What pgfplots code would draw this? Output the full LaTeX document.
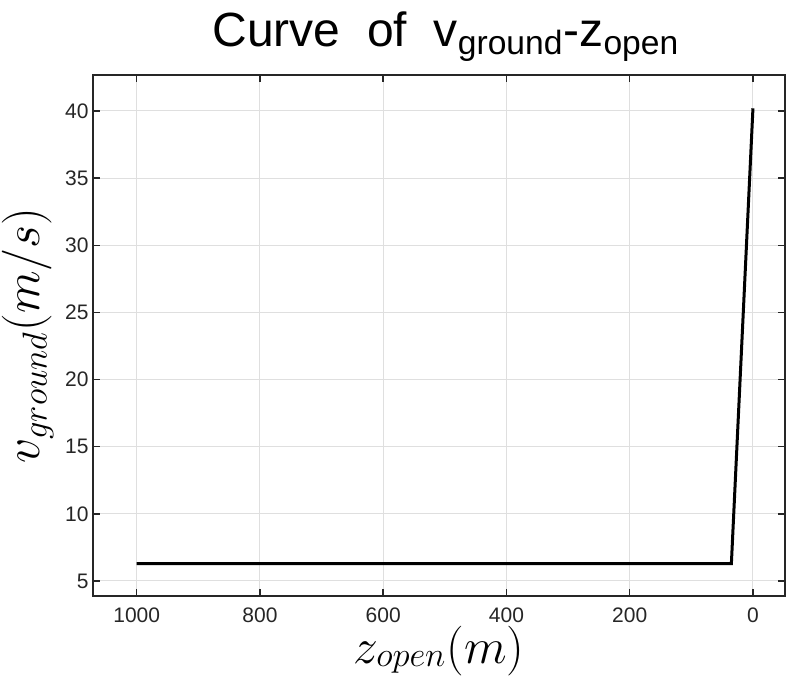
\documentclass[border=0pt]{standalone}
\usepackage{pgfplots}
\pgfplotsset{compat=1.18}
\usepackage{fontspec}
\setmainfont{Liberation Sans}
\definecolor{axc}{HTML}{262626}
\definecolor{gridc}{HTML}{DFDFDF}
\begin{document}
\begin{tikzpicture}
\path[use as bounding box] (-46.5pt,-39.5pt) rectangle (347pt,298pt);
\begin{axis}[
  at={(0,0)}, anchor=south west,
  scale only axis, width=346pt, height=260.5pt,
  x dir=reverse, xmin=-52, xmax=1071, ymin=3.88, ymax=42.68,
  xtick={0,200,...,1000}, ytick={5,10,...,40},
  grid=major, major grid style={gridc, line width=0.5pt},
  axis line style={axc, line width=0.75pt},
  tick style={axc, line width=0.75pt},
  tick align=inside, major tick length=3.5pt,
  ticklabel style={font=\fontsize{10.5}{12}\selectfont, text=axc, inner sep=1pt},
  xticklabel style={yshift=-4.5pt},
  yticklabel style={xshift=-1pt},
  /pgf/number format/assume math mode=true,
  /pgf/number format/1000 sep={},
  title={Curve\ \ of\ \ v\textsubscript{ground}-z\textsubscript{open}},
  title style={at={(axis description cs:0.51,1.031)}, anchor=base, font=\fontsize{24}{28}\selectfont},
  xlabel={$z_{\raisebox{2.5pt}{$\scriptstyle open$}}(m)$},
  xlabel style={at={(axis description cs:0.5,-0.1305)}, anchor=base, inner sep=0pt, font=\fontsize{23.5}{28}\selectfont},
  ylabel={$v_{\raisebox{2.5pt}{$\scriptstyle ground$}}(m/s)$},
  ylabel style={at={(axis description cs:-0.094,0.5)}, anchor=center, inner sep=0pt, font=\fontsize{25}{29}\selectfont},
]
\addplot[black, line width=1.5pt] coordinates {(1000,6.3) (35,6.3) (0,40.2)};
\end{axis}
\end{tikzpicture}
\end{document}
